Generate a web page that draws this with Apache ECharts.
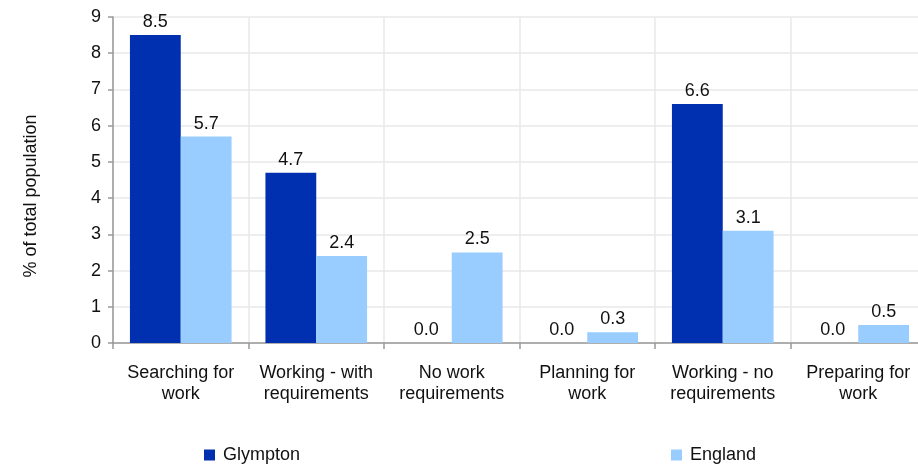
<!DOCTYPE html>
<html><head><meta charset="utf-8">
<script src="https://cdn.jsdelivr.net/npm/echarts@6/dist/echarts.min.js"></script>
<style>html,body{margin:0;padding:0;background:#fff;overflow:hidden}#c{width:918px;height:465px}</style>
</head><body><div id="c"></div>
<script>
const categories = ['Searching for\nwork','Working - with\nrequirements','No work\nrequirements','Planning for\nwork','Working - no\nrequirements','Preparing for\nwork'];
const glympton = [8.5, 4.7, 0.0, 0.0, 6.6, 0.0];
const england = [5.7, 2.4, 2.5, 0.3, 3.1, 0.5];
const yTicks = [0,1,2,3,4,5,6,7,8,9];

const font = 'Liberation Sans, Arial, sans-serif';
const chart = echarts.init(document.getElementById('c'));
const lbl = {show:true, position:'top', distance:4, color:'#111', fontSize:18, fontFamily:font, formatter: p => p.value.toFixed(1)};
const legText = {fontSize:18, fontFamily:font, color:'#111', padding:[0,0,0,3]};
chart.setOption({
  animation:false,
  grid:{left:113, right:-8, top:17, bottom:122, outerBoundsMode:'none', containLabel:false},
  legend:[
    {data:['Glympton'], left:204, top:446, padding:0, itemWidth:11, itemHeight:11, textStyle:legText, icon:'rect'},
    {data:['England'], left:671, top:446, padding:0, itemWidth:11, itemHeight:11, textStyle:legText, icon:'rect'}
  ],
  xAxis:{type:'category', data:categories,
    axisLine:{lineStyle:{color:'#999', width:1.5}},
    axisTick:{show:true, length:6, lineStyle:{color:'#999', width:1.5}},
    axisLabel:{fontSize:18, fontFamily:font, color:'#111', margin:20, lineHeight:21, interval:0},
    splitLine:{show:true, lineStyle:{color:'#e8e8e8', width:1.5}}
  },
  yAxis:{type:'value', min:yTicks[0], max:yTicks[yTicks.length-1], interval:1,
    name:'% of total population', nameLocation:'middle', nameGap:73, nameRotate:90,
    nameTextStyle:{fontSize:18, fontFamily:font, color:'#111', padding:[0,32,0,0]},
    axisLine:{show:true, lineStyle:{color:'#999', width:1.5}},
    axisTick:{show:true, length:5, lineStyle:{color:'#999', width:1.5}},
    axisLabel:{fontSize:18, fontFamily:font, color:'#111', margin:12},
    splitLine:{show:true, lineStyle:{color:'#e8e8e8', width:1.5}}
  },
  series:[
    {name:'Glympton', type:'bar', data:glympton, barGap:'0%', barCategoryGap:'25%', itemStyle:{color:'#0030AF'}, label:lbl},
    {name:'England', type:'bar', data:england, itemStyle:{color:'#99CCFF'}, label:lbl}
  ]
});
</script></body></html>
